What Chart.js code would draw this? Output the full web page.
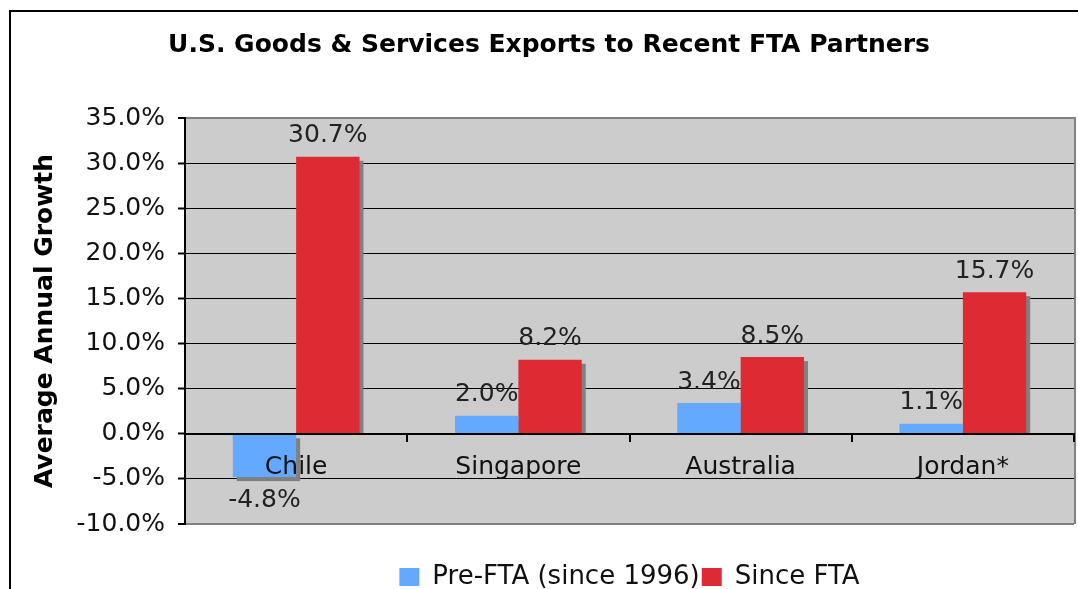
<!DOCTYPE html>
<html>
<head>
<meta charset="utf-8">
<title>U.S. Goods & Services Exports to Recent FTA Partners</title>
<script src="https://cdn.jsdelivr.net/npm/chart.js@4.4.1/dist/chart.umd.min.js"></script>
<style>
    html, body { margin: 0; padding: 0; background: #fff; overflow: hidden; }
    #frame { position: absolute; left: 9px; top: 10px; width: 1069px; height: 579px; border-left: 2px solid #000; border-top: 2px solid #000; }
    #wrap { position: absolute; left: 0; top: 0; width: 1078px; height: 600px; }
</style>
</head>
<body>
<div id="frame"></div>
<div id="wrap"><canvas id="exportsChart"></canvas></div>
<script>
// chart data
const categories = ['Chile', 'Singapore', 'Australia', 'Jordan*'];
const seriesNames = ['Pre-FTA (since 1996)', 'Since FTA'];
const preFta = [-4.8, 2.0, 3.4, 1.1];
const sinceFta = [30.7, 8.2, 8.5, 15.7];
const yMin = -10;
const yMax = 35;
const yStep = 5;

const FONT = "'DejaVu Sans', Verdana, sans-serif";

function pct(v) {
    return v.toFixed(1) + '%';
}

// grey plot area with grey right edge
const plotBackground = {
    id: 'plotBackground',
    beforeDraw(chart) {
        const { ctx, chartArea: a } = chart;
        ctx.save();
        ctx.fillStyle = '#cccccc';
        ctx.fillRect(a.left, a.top, a.width, a.height);
        ctx.strokeStyle = '#808080';
        ctx.lineWidth = 2;
        ctx.beginPath();
        ctx.moveTo(a.right + 1, a.top - 1);
        ctx.lineTo(a.right + 1, a.bottom);
        ctx.stroke();
        ctx.restore();
    }
};

// flat grey drop shadow behind each bar
const barShadow = {
    id: 'barShadow',
    beforeDatasetsDraw(chart) {
        const ctx = chart.ctx;
        ctx.save();
        ctx.fillStyle = '#808080';
        chart.data.datasets.forEach((ds, i) => {
            chart.getDatasetMeta(i).data.forEach((bar, j) => {
                const { x, y, base, width } = bar.getProps(['x', 'y', 'base', 'width'], true);
                const left = x - width / 2 + 4;
                if (ds.data[j] >= 0) {
                    ctx.fillRect(left, y + 4, width, base - y - 4);
                } else {
                    ctx.fillRect(left, base + 4, width, y - base);
                }
            });
        });
        ctx.restore();
    }
};

// value labels above / below bars
const valueLabels = {
    id: 'valueLabels',
    afterDatasetsDraw(chart) {
        const ctx = chart.ctx;
        ctx.save();
        ctx.font = '25px ' + FONT;
        ctx.fillStyle = '#222';
        ctx.textAlign = 'center';
        ctx.textBaseline = 'middle';
        chart.data.datasets.forEach((ds, i) => {
            chart.getDatasetMeta(i).data.forEach((bar, j) => {
                const v = ds.data[j];
                const ty = v >= 0 ? bar.y - 21 : bar.y + 23;
                ctx.fillText(pct(v), bar.x, ty);
            });
        });
        ctx.restore();
    }
};

new Chart(document.getElementById('exportsChart'), {
    type: 'bar',
    data: {
        labels: categories,
        datasets: [
            {
                label: seriesNames[0],
                data: preFta,
                backgroundColor: '#63a9ff',
                borderWidth: 0
            },
            {
                label: seriesNames[1],
                data: sinceFta,
                backgroundColor: '#de2b33',
                borderWidth: 0
            }
        ]
    },
    options: {
        responsive: true,
        maintainAspectRatio: false,
        animation: false,
        datasets: {
            bar: {
                categoryPercentage: 0.57,
                barPercentage: 1.0
            }
        },
        layout: {
            padding: { left: 24, right: 4, top: 0, bottom: 0 }
        },
        plugins: {
            title: {
                display: true,
                text: 'U.S. Goods & Services Exports to Recent FTA Partners',
                color: '#000',
                font: { family: FONT, size: 25, weight: 'bold' },
                padding: { top: 30, bottom: 58 }
            },
            legend: {
                position: 'bottom',
                fullSize: false,
                title: {
                    display: true,
                    text: '',
                    font: { family: FONT, size: 10 },
                    padding: { top: 26, bottom: 0 }
                },
                labels: {
                    boxWidth: 20,
                    boxHeight: 18,
                    padding: 2,
                    color: '#111',
                    font: { family: FONT, size: 26 }
                }
            },
            tooltip: { enabled: false }
        },
        scales: {
            x: {
                position: { y: 0 },
                grid: {
                    offset: true,
                    drawOnChartArea: false,
                    drawTicks: true,
                    tickLength: 7,
                    color: '#000',
                    lineWidth: 2
                },
                border: { color: '#000', width: 2, z: 1 },
                ticks: {
                    z: 1,
                    color: '#111',
                    padding: 12,
                    maxRotation: 0,
                    font: { family: FONT, size: 25 }
                }
            },
            y: {
                min: yMin,
                max: yMax,
                afterFit(scale) { scale.width = 161; },
                grid: {
                    color: ctx => (ctx.tick && (ctx.tick.value === yMax || ctx.tick.value === yMin)) ? '#808080' : '#000',
                    lineWidth: ctx => (ctx.tick && (ctx.tick.value === yMin || ctx.tick.value === yMax)) ? 2 : 1,
                    tickColor: '#000',
                    tickWidth: 2,
                    tickLength: 7
                },
                border: { color: '#000', width: 2 },
                ticks: {
                    stepSize: yStep,
                    color: '#111',
                    padding: 13,
                    font: { family: FONT, size: 25 },
                    callback: v => pct(v)
                },
                title: {
                    display: true,
                    text: 'Average Annual Growth',
                    color: '#000',
                    font: { family: FONT, size: 25, weight: 'bold' },
                    padding: { top: 6, bottom: 0 }
                }
            }
        }
    },
    plugins: [plotBackground, barShadow, valueLabels]
});
</script>
</body>
</html>
